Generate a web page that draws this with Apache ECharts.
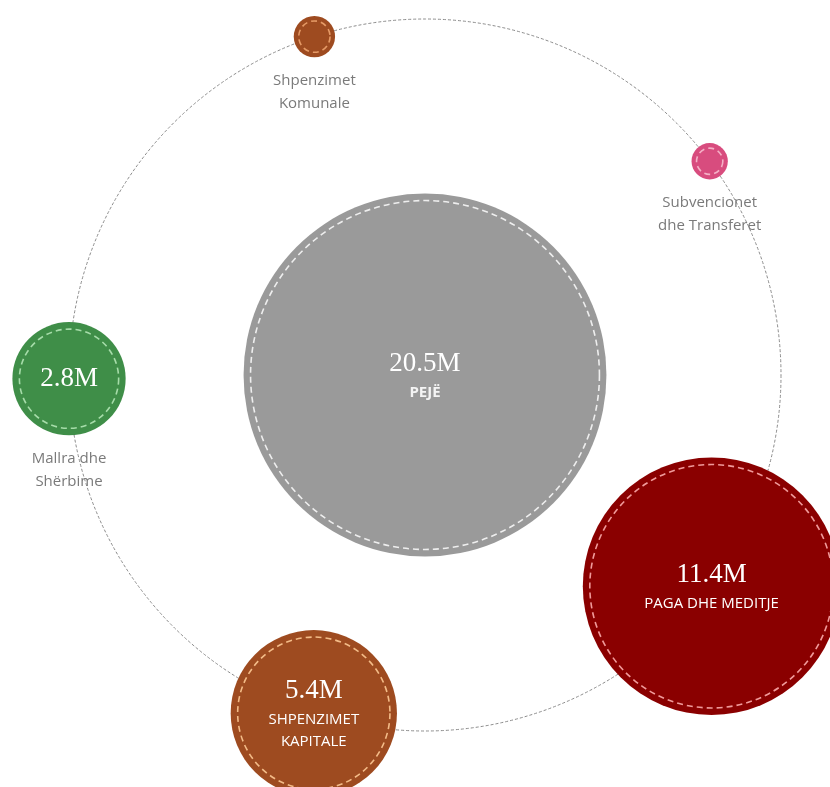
<!DOCTYPE html>
<html><head><meta charset="utf-8">
<script src="https://cdn.jsdelivr.net/npm/echarts@6/dist/echarts.min.js"></script>
<style>html,body{margin:0;padding:0;background:#fff}#c{width:830px;height:787px}</style>
</head><body><div id="c"></div>
<script>
// ---- data ----
const totalName = 'PEJË';
const totalValue = 20.5;
const categories = ['PAGA DHE MEDITJE', 'SHPENZIMET\nKAPITALE', 'Mallra dhe\nShërbime', 'Shpenzimet\nKomunale', 'Subvencionet\ndhe Transferet'];
const values = [11.4, 5.4, 2.8, 0.5, 0.4];
const orbitAngles = [323.6, 251.8, 180.6, 108.1, 36.9];

// ---- styles ----
const totalFill = '#9a9a9a', totalRing = '#eeeeee';
const fills = ['#8a0000', '#9e4b20', '#3f8e48', '#9e4b20', '#d84c7e'];
const rings = ['#f09a9a', '#f3bb87', '#a6dca9', '#e59a66', '#f4b0c6'];
const size = v => 62 * Math.pow(v, 0.585);
const fmt = v => v.toFixed(1) + 'M';

const rich = {
  v: { fontFamily: 'Liberation Serif', fontSize: 27, color: '#ffffff', lineHeight: 35 },
  n: { fontFamily: 'Open Sans', fontSize: 15, color: '#ffffff', lineHeight: 22 },
  b: { fontFamily: 'Open Sans', fontSize: 15, fontWeight: 'bold', color: '#f4f4f4', lineHeight: 22 }
};

const fillData = [{
  name: totalName, value: [0, 0], symbolSize: size(totalValue),
  itemStyle: { color: totalFill },
  label: { show: true, position: 'inside', formatter: '{v|' + fmt(totalValue) + '}\n{b|' + totalName + '}', rich }
}];
const ringData = [{
  name: totalName, value: [0, 0], symbolSize: size(totalValue) - 14,
  itemStyle: { borderColor: totalRing }, label: { show: false }
}];
categories.forEach((c, i) => {
  const v = values[i];
  let label;
  if (v >= 5) label = { show: true, position: 'inside', formatter: '{v|' + fmt(v) + '}\n' + c.split('\n').map(s => '{n|' + s + '}').join('\n'), rich };
  else if (v >= 1) label = { show: true, position: 'inside', formatter: '{v|' + fmt(v) + '}', rich };
  else label = { show: false };
  fillData.push({ name: c, value: [1, orbitAngles[i]], symbolSize: size(v), itemStyle: { color: fills[i] }, label });
  ringData.push({
    name: c, value: [1, orbitAngles[i]], symbolSize: size(v) - (v >= 1 ? 14 : 10),
    itemStyle: { borderColor: rings[i] },
    label: v < 5 ? { show: true, position: 'bottom', distance: v >= 1 ? 16 : 14, formatter: c,
      fontFamily: 'Open Sans', fontSize: 15, color: '#7a7a7a', lineHeight: 23 } : { show: false }
  });
});

const chart = echarts.init(document.getElementById('c'));
chart.setOption({
  animation: false,
  backgroundColor: '#ffffff',
  polar: { center: [425, 375], radius: 356 },
  angleAxis: {
    type: 'value', min: 0, max: 360, startAngle: 0, clockwise: false, z: 0,
    axisLine: { show: true, lineStyle: { color: '#8c8c8c', width: 1, type: [3, 2] } },
    axisTick: { show: false }, axisLabel: { show: false }, splitLine: { show: false }
  },
  radiusAxis: {
    type: 'value', min: 0, max: 1,
    axisLine: { show: false }, axisTick: { show: false }, axisLabel: { show: false }, splitLine: { show: false }
  },
  series: [
    { type: 'scatter', coordinateSystem: 'polar', symbol: 'circle', data: fillData, z: 5, silent: true,
      itemStyle: { opacity: 1, borderWidth: 0 } },
    { type: 'scatter', coordinateSystem: 'polar', symbol: 'circle', data: ringData, z: 6, silent: true,
      itemStyle: { color: 'none', opacity: 1, borderWidth: 1.6, borderType: [6, 4] } }
  ]
});
</script>
</body></html>
